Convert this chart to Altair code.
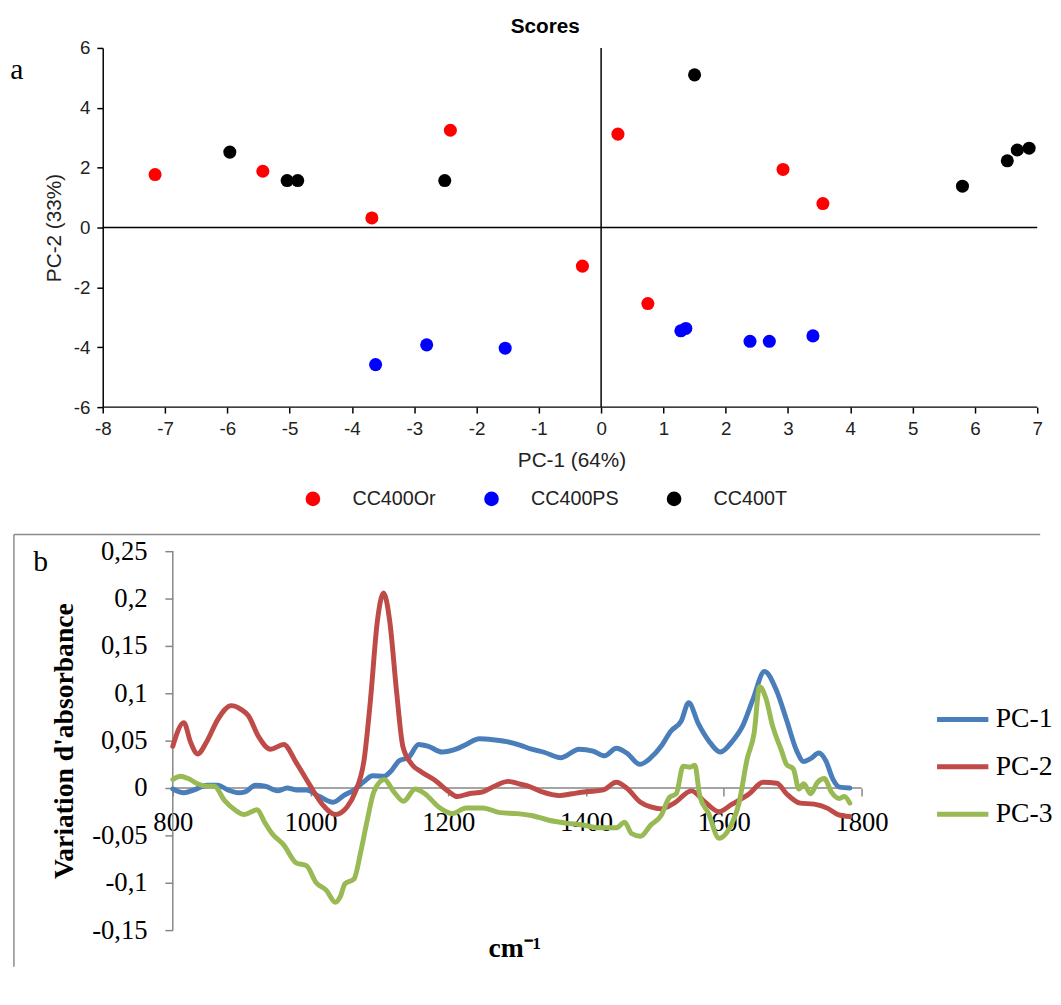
import altair as alt
import pandas as pd

# ---------------- panel a : PCA scores ----------------
groups = ["CC400Or", "CC400PS", "CC400T"]
group_colors = ["#FF0000", "#0000FF", "#000000"]

or_pc1 = [-7.16, -5.43, -3.68, -2.42, -0.30, 0.27, 0.75, 2.92, 3.56]
or_pc2 = [1.77, 1.88, 0.32, 3.25, -1.29, 3.12, -2.54, 1.94, 0.80]
ps_pc1 = [-3.62, -2.80, -1.54, 1.28, 1.36, 2.39, 2.70, 3.40]
ps_pc2 = [-4.58, -3.92, -4.03, -3.45, -3.37, -3.80, -3.80, -3.62]
t_pc1 = [-5.96, -5.04, -4.87, -2.51, 1.50, 5.80, 6.52, 6.68, 6.87]
t_pc2 = [2.52, 1.57, 1.57, 1.57, 5.10, 1.38, 2.23, 2.59, 2.65]

# ---------------- panel b : loadings ----------------
series = ["PC-1", "PC-2", "PC-3"]
series_colors = ["#4A7EBB", "#BE4B48", "#98B954"]

pc1_cm = [800, 816, 831, 850, 865, 880, 895, 905, 920, 934, 952, 966, 979, 994, 1013, 1033,
          1048, 1063, 1078, 1090, 1107, 1117, 1129, 1142, 1157, 1171, 1191, 1211, 1226, 1245,
          1265, 1285, 1305, 1321, 1340, 1363, 1390, 1410, 1427, 1444, 1459, 1478, 1494, 1509,
          1523, 1538, 1549, 1563, 1578, 1595, 1612, 1627, 1642, 1659, 1677, 1691, 1706, 1716,
          1726, 1738, 1748, 1758, 1768, 1783]
pc1_val = [-0.001, -0.005, -0.002, 0.003, 0.003, -0.002, -0.005, -0.004, 0.003, 0.002,
           -0.003, 0.0, -0.002, -0.002, -0.009, -0.015, -0.008, -0.002, 0.007, 0.013,
           0.0125, 0.018, 0.029, 0.032, 0.046, 0.044, 0.038, 0.041, 0.046, 0.052,
           0.051, 0.049, 0.045, 0.041, 0.0375, 0.032, 0.041, 0.039, 0.034, 0.042,
           0.037, 0.025, 0.032, 0.044, 0.060, 0.0705, 0.090, 0.068, 0.050, 0.038,
           0.049, 0.065, 0.093, 0.123, 0.102, 0.072, 0.039, 0.028, 0.031, 0.037,
           0.029, 0.010, 0.001, 0.0]

pc2_cm = [800, 816, 826, 836, 850, 865, 885, 899, 910, 924, 942, 961, 979, 999, 1018, 1036,
          1053, 1065, 1078, 1087, 1097, 1106, 1115, 1125, 1134, 1147, 1161, 1181, 1201, 1213,
          1230, 1250, 1270, 1287, 1305, 1316, 1336, 1361, 1380, 1400, 1425, 1444, 1459, 1479,
          1494, 1509, 1528, 1553, 1573, 1593, 1612, 1637, 1657, 1677, 1691, 1711, 1731, 1751,
          1766, 1783]
pc2_val = [0.044, 0.069, 0.048, 0.036, 0.050, 0.072, 0.087, 0.083, 0.076, 0.055,
           0.041, 0.046, 0.027, 0.003, -0.018, -0.028, -0.020, -0.004, 0.031, 0.093,
           0.176, 0.206, 0.176, 0.101, 0.044, 0.025, 0.017, 0.008, -0.004, -0.009,
           -0.006, -0.004, 0.003, 0.007, 0.004, 0.002, -0.004, -0.008, -0.006, -0.004,
           -0.002, 0.006, 0.0, -0.015, -0.020, -0.022, -0.016, -0.003, -0.015, -0.025,
           -0.017, -0.006, 0.006, 0.005, -0.006, -0.016, -0.017, -0.0215, -0.028, -0.030]

pc3_cm = [800, 811, 823, 836, 848, 860, 875, 890, 904, 922, 934, 944, 961, 979, 994, 1008,
          1023, 1036, 1043, 1050, 1063, 1073, 1082, 1092, 1107, 1121, 1135, 1152, 1166, 1186,
          1206, 1226, 1250, 1275, 1300, 1321, 1346, 1371, 1395, 1420, 1444, 1456, 1466, 1479,
          1494, 1509, 1521, 1531, 1541, 1551, 1558, 1565, 1578, 1593, 1607, 1622, 1634, 1644,
          1652, 1661, 1671, 1683, 1691, 1701, 1709, 1716, 1726, 1736, 1746, 1756, 1768, 1775,
          1783]
pc3_val = [0.009, 0.0125, 0.0097, 0.0045, 0.002, 0.002, -0.013, -0.023, -0.028, -0.023,
           -0.037, -0.048, -0.060, -0.079, -0.082, -0.0997, -0.108, -0.1205, -0.115, -0.101,
           -0.096, -0.067, -0.035, -0.004, 0.009, -0.004, -0.014, -0.001, -0.006, -0.020,
           -0.027, -0.021, -0.021, -0.026, -0.027, -0.029, -0.034, -0.037, -0.039, -0.042,
           -0.042, -0.036, -0.048, -0.051, -0.039, -0.029, -0.010, -0.006, 0.023, 0.022,
           0.024, -0.008, -0.027, -0.053, -0.044, -0.016, 0.031, 0.058, 0.107, 0.095,
           0.065, 0.041, 0.025, 0.020, -0.001, 0.0045, -0.006, 0.006, 0.010, -0.004,
           -0.011, -0.009, -0.016]

a_x_ticks = [-8 + 0.5 * i for i in range(31)]
a_y_ticks = list(range(-6, 7))
b_x_ticks = [800, 1000, 1200, 1400, 1600, 1800]
b_y_ticks = [-0.15, -0.1, -0.05, 0, 0.05, 0.1, 0.15, 0.2, 0.25]

# ---------------- tables ----------------
df_a = pd.concat([
    pd.DataFrame({"pc1": or_pc1, "pc2": or_pc2, "grp": groups[0]}),
    pd.DataFrame({"pc1": ps_pc1, "pc2": ps_pc2, "grp": groups[1]}),
    pd.DataFrame({"pc1": t_pc1, "pc2": t_pc2, "grp": groups[2]}),
], ignore_index=True)

df_b = pd.concat([
    pd.DataFrame({"cm": pc1_cm, "v": pc1_val, "s": series[0]}),
    pd.DataFrame({"cm": pc2_cm, "v": pc2_val, "s": series[1]}),
    pd.DataFrame({"cm": pc3_cm, "v": pc3_val, "s": series[2]}),
], ignore_index=True)

# ---------------- geometry ----------------
A_W, A_H = 1037, 364
A_SHIFT = 90                      # y axis sits this far right of the plot origin
A_PPU = 63.13
xa_min = -8 - A_SHIFT / A_PPU

B_W, B_H = 1040, 438
B_SHIFT = 161
B_PPU_X, B_PPU_Y = 0.698, 960.0
xb_min = 800 - B_SHIFT / B_PPU_X
xb_max = xb_min + B_W / B_PPU_X
yb_max = 0.25 + 17 / B_PPU_Y
yb_min = yb_max - B_H / B_PPU_Y
B_XAXIS_OFF = -(B_H - yb_max * B_PPU_Y)

SANS = "Liberation Sans"
SERIF = "Liberation Serif"
TXT = "#222222"
GRAY = "#868686"

# ---------------- panel a ----------------
xs_a = alt.Scale(domain=[xa_min, 7], nice=False, zero=False)
ys_a = alt.Scale(domain=[-6, 6], nice=False, zero=False)

neg_fmt = "(datum.value < 0 ? '-' + abs(datum.value) : '' + datum.value)"

points = alt.Chart(df_a).mark_circle(size=175, opacity=1).encode(
    x=alt.X("pc1:Q", scale=xs_a, axis=alt.Axis(
        values=a_x_ticks, labelExpr="datum.value % 1 == 0 ? " + neg_fmt + " : ''",
        domain=False, grid=False, tickSize=6, tickColor="black", tickWidth=1.5,
        labelFont=SANS, labelFontSize=19, labelColor=TXT, labelPadding=7,
        labelOverlap=False, labelFlush=False,
        title="PC-1 (64%)", titleFont=SANS, titleFontSize=21, titleFontWeight="normal",
        titleColor=TXT, titleX=565, titleY=54, titleBaseline="middle")),
    y=alt.Y("pc2:Q", scale=ys_a, axis=alt.Axis(
        values=a_y_ticks, labelExpr="datum.value % 2 == 0 ? " + neg_fmt + " : ''",
        offset=-A_SHIFT, domain=True, domainColor="black", domainWidth=1.5,
        grid=False, tickSize=6, tickColor="black", tickWidth=1.5,
        labelFont=SANS, labelFontSize=19, labelColor=TXT, labelPadding=7,
        labelOverlap=False, labelFlush=False,
        title="PC-2 (33%)", titleFont=SANS, titleFontSize=21, titleFontWeight="normal",
        titleColor=TXT, titleX=-49, titleY=A_H / 2, titleBaseline="middle")),
    color=alt.Color("grp:N", scale=alt.Scale(domain=groups, range=group_colors),
                    legend=alt.Legend(title=None, orient="none", legendX=293, legendY=447,
                                      direction="horizontal", symbolType="circle",
                                      symbolSize=220, symbolOpacity=1, labelFont=SANS,
                                      labelFontSize=20, labelColor=TXT, labelOffset=30,
                                      columnPadding=46, padding=0)),
)

a_lines = pd.DataFrame({"x": [-8, -8, 0], "x2": [7, 7, 0],
                        "y": [-6, 0, -6], "y2": [-6, 0, 6]})
rules_a = alt.Chart(a_lines).mark_rule(color="black", strokeWidth=1.5).encode(
    x=alt.X("x:Q", scale=xs_a), x2="x2:Q",
    y=alt.Y("y:Q", scale=ys_a), y2="y2:Q")

letter_a = alt.Chart(pd.DataFrame({"t": ["a"]})).mark_text(
    font=SERIF, fontSize=30, align="center", baseline="middle", color="black"
).encode(x=alt.value(3), y=alt.value(22), text="t:N")

panel_a = alt.layer(rules_a, points, letter_a).properties(
    width=A_W, height=A_H,
    title=alt.TitleParams(text="Scores", font=SANS, fontSize=21, fontWeight="bold",
                          color="black", anchor="middle", frame="group", dx=20, offset=2))

# ---------------- panel b ----------------
xs_b = alt.Scale(domain=[xb_min, xb_max], nice=False, zero=False)
ys_b = alt.Scale(domain=[yb_min, yb_max], nice=False, zero=False)

lines = alt.Chart(df_b).mark_line(strokeWidth=5, interpolate="monotone",
                                  strokeCap="round", strokeJoin="round").encode(
    x=alt.X("cm:Q", scale=xs_b, axis=alt.Axis(
        values=b_x_ticks, labelExpr="'' + datum.value", offset=B_XAXIS_OFF,
        domain=False, grid=False, tickSize=8, tickColor=GRAY, tickWidth=1.5,
        labelFont=SERIF, labelFontSize=27, labelColor="black", labelPadding=14,
        labelOverlap=False, labelFlush=False,
        title="cm⁻¹", titleFont=SERIF, titleFontSize=28, titleFontWeight="bold",
        titleColor="black", titleX=507, titleY=163, titleBaseline="middle")),
    y=alt.Y("v:Q", scale=ys_b, axis=alt.Axis(
        values=b_y_ticks, labelExpr="replace('' + datum.value, '.', ',')",
        offset=-B_SHIFT, domain=False, grid=False, tickSize=8, tickColor=GRAY,
        tickWidth=1.5, labelFont=SERIF, labelFontSize=27, labelColor="black",
        labelPadding=18, labelOverlap=False, labelFlush=False,
        title="Variation  d'absorbance", titleFont=SERIF, titleFontSize=28,
        titleFontWeight="bold", titleColor="black", titleX=-110, titleY=209,
        titleBaseline="middle")),
    color=alt.Color("s:N", scale=alt.Scale(domain=series, range=series_colors),
                    legend=alt.Legend(title=None, orient="none", legendX=933, legendY=159,
                                      direction="vertical", symbolType="stroke",
                                      symbolSize=2704, symbolStrokeWidth=5,
                                      labelFont=SERIF, labelFontSize=28,
                                      labelColor="black", labelOffset=5,
                                      rowPadding=5, padding=0)),
)

b_axes = pd.DataFrame({"x": [800, 800], "x2": [1800, 800],
                       "y": [0, -0.15], "y2": [0, 0.25]})
rules_b = alt.Chart(b_axes).mark_rule(color=GRAY, strokeWidth=1.5).encode(
    x=alt.X("x:Q", scale=xs_b), x2="x2:Q",
    y=alt.Y("y:Q", scale=ys_b), y2="y2:Q")

b_frame = pd.DataFrame({"x": [xb_min, xb_min], "x2": [xb_max, xb_min],
                        "y": [yb_max, yb_min], "y2": [yb_max, yb_max]})
frame_b = alt.Chart(b_frame).mark_rule(color="#8c8c8c", strokeWidth=1.5).encode(
    x=alt.X("x:Q", scale=xs_b), x2="x2:Q",
    y=alt.Y("y:Q", scale=ys_b), y2="y2:Q")

letter_b = alt.Chart(pd.DataFrame({"t": ["b"]})).mark_text(
    font=SERIF, fontSize=30, align="center", baseline="middle", color="black"
).encode(x=alt.value(27), y=alt.value(28), text="t:N")

panel_b = alt.layer(frame_b, rules_b, lines, letter_b).properties(width=B_W, height=B_H)

chart = alt.vconcat(panel_a, panel_b, spacing=25).resolve_scale(
    color="independent"
).properties(
    padding={"left": 2, "top": 2, "right": 0, "bottom": 0},
    background="white",
).configure_view(stroke=None)

chart.save("out.html", embed_options={"renderer": "svg", "actions": False})
